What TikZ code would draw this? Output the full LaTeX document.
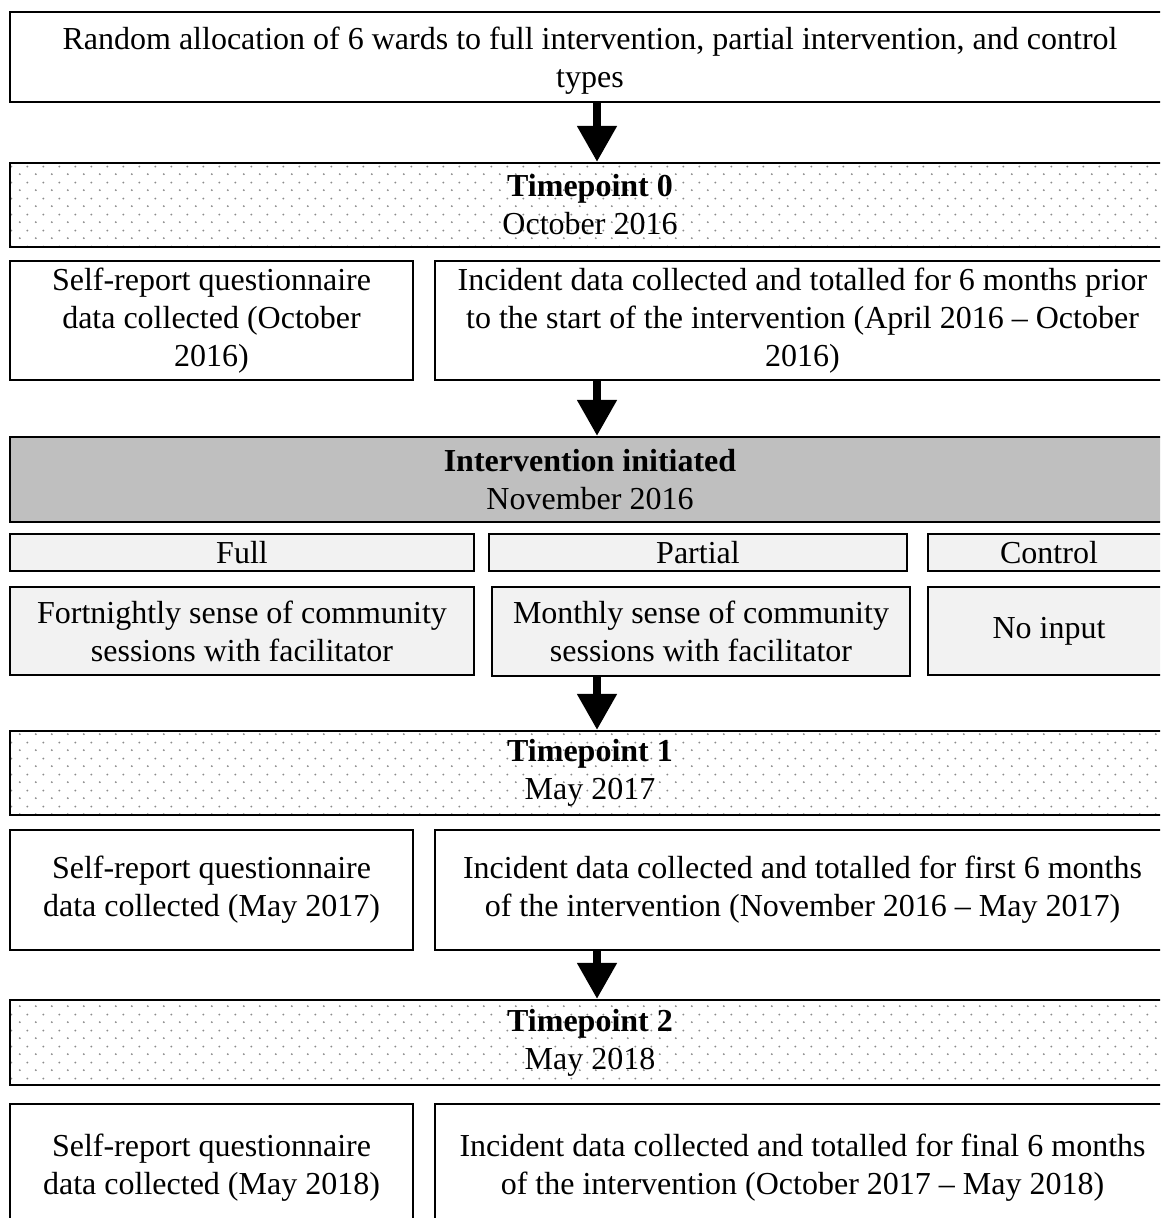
\documentclass[tikz,border=0pt]{standalone}
\usepackage{fontspec}
\setmainfont{Liberation Serif}
\usepackage{tikz}
\usetikzlibrary{arrows.meta,patterns.meta}

\tikzdeclarepattern{
  name=stipple,
  type=uncolored,
  bounding box={(0,0) and (8pt,8pt)},
  tile size={(8pt,8pt)},
  code={
    \fill (2pt,2pt) circle (0.55pt);
    \fill (6pt,6pt) circle (0.55pt);
  }
}

\begin{document}
\begin{tikzpicture}[
    x=0.5pt, y=-0.5pt,
    every node/.style={font=\fontsize{16}{19}\selectfont, align=center, inner sep=0pt},
    box/.style={draw, line width=1.1pt, rectangle},
    dotbox/.style={box, pattern={stipple}, pattern color=gray!90},
    greybox/.style={box, fill=black!25},
    lightbox/.style={box, fill=black!5},
    bigarrow/.style={line width=4pt, -{Triangle[width=19pt,length=18pt]}}
]
\useasboundingbox (0,0) rectangle (1160,1218);
\clip (0,0) rectangle (1160,1218);

% Allocation
\node[box, minimum width=580pt, minimum height=45pt] (alloc) at (590,57)
    {\rule{0pt}{15pt}Random allocation of 6 wards to full intervention, partial intervention, and control\\types};

% Timepoint 0
\node[dotbox, minimum width=580pt, minimum height=42pt] (tp0) at (590,205)
    {\textbf{Timepoint 0}\\October 2016};
\node[box, minimum width=201.5pt, minimum height=59.5pt] (sr0) at (211.5,320.5)
    {Self-report questionnaire\\data collected (October\\2016)};
\node[box, minimum width=367.5pt, minimum height=59.5pt] (inc0) at (802.5,320.5)
    {Incident data collected and totalled for 6 months prior\\to the start of the intervention (April 2016 -- October\\2016)};

% Intervention
\node[greybox, minimum width=580pt, minimum height=42.5pt] (init) at (590,479.5)
    {\textbf{Intervention initiated}\\November 2016};
\node[lightbox, minimum width=232pt, minimum height=18.5pt] (full) at (242,552.5) {Full};
\node[lightbox, minimum width=209pt, minimum height=18.5pt] (partial) at (698,552.5) {Partial};
\node[lightbox, minimum width=121pt, minimum height=18.5pt] (control) at (1049,552.5) {Control};
\node[lightbox, minimum width=232pt, minimum height=44pt] (fort) at (242,631)
    {Fortnightly sense of community\\sessions with facilitator};
\node[lightbox, minimum width=209pt, minimum height=44.5pt] (month) at (701,631.5)
    {Monthly sense of community\\sessions with facilitator};
\node[lightbox, minimum width=121pt, minimum height=44pt] (noinput) at (1049,631)
    {No input};

% Timepoint 1
\node[dotbox, minimum width=580pt, minimum height=42pt] (tp1) at (590,773)
    {\textbf{Timepoint 1}\\May 2017};
\node[box, minimum width=201.5pt, minimum height=60pt] (sr1) at (211.5,890)
    {Self-report questionnaire\\data collected (May 2017)};
\node[box, minimum width=367.5pt, minimum height=60pt] (inc1) at (802.5,890)
    {Incident data collected and totalled for first 6 months\\of the intervention (November 2016 -- May 2017)};

% Timepoint 2
\node[dotbox, minimum width=580pt, minimum height=42.5pt] (tp2) at (590,1042.5)
    {\textbf{Timepoint 2}\\May 2018};
\node[box, minimum width=201.5pt, minimum height=64pt] (sr2) at (211.5,1168)
    {Self-report questionnaire\\data collected (May 2018)};
\node[box, minimum width=367.5pt, minimum height=64pt] (inc2) at (802.5,1168)
    {Incident data collected and totalled for final 6 months\\of the intervention (October 2017 -- May 2018)};

% Arrows
\coordinate (axis) at (597,0);
\draw[bigarrow] (alloc.south -| axis) -- (tp0.north -| axis);
\draw[bigarrow] (inc0.south -| axis) -- (init.north -| axis);
\draw[bigarrow] (month.south -| axis) -- (tp1.north -| axis);
\draw[bigarrow] (inc1.south -| axis) -- (tp2.north -| axis);
\end{tikzpicture}
\end{document}
